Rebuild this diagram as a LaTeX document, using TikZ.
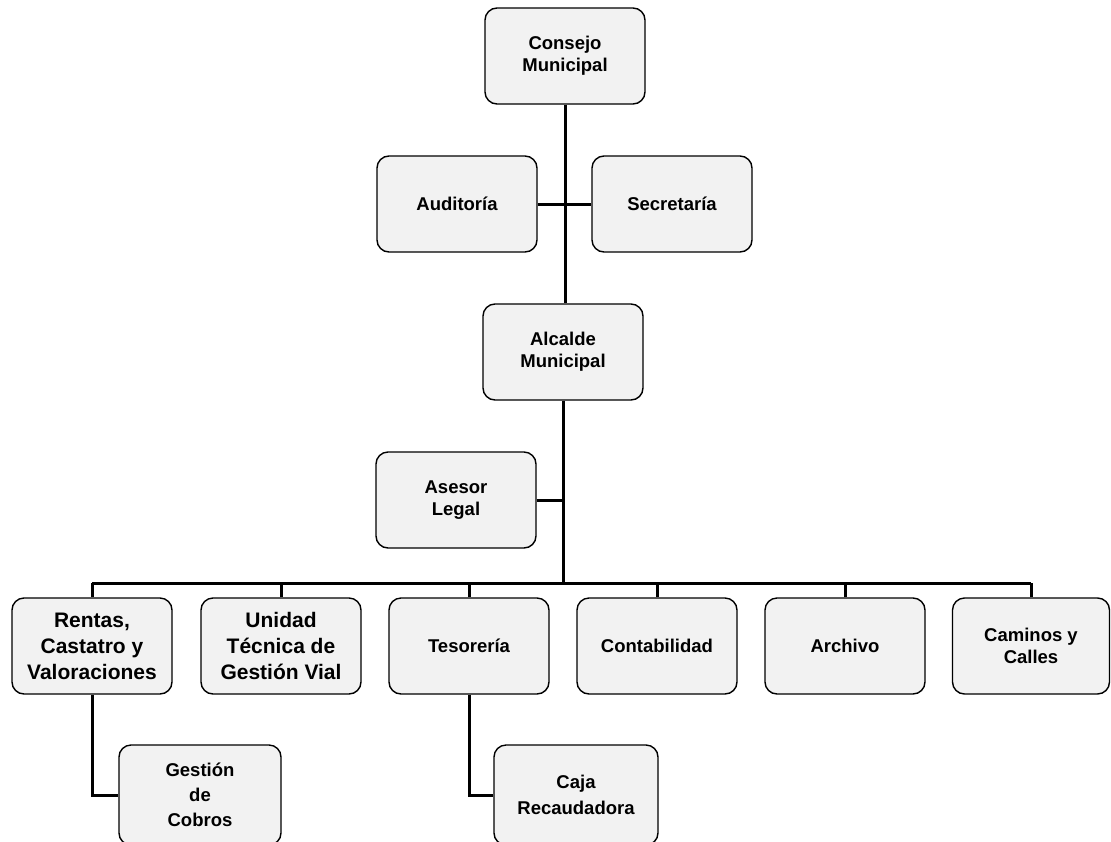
\documentclass[tikz,border=0pt]{standalone}
\usepackage{fontspec}
\setmainfont{Liberation Sans}
\begin{document}
\begin{tikzpicture}[x=1pt,y=-1pt,
  box/.style={draw=black, line width=1.4pt, rounded corners=12pt, fill=black!5,
    minimum width=160pt, minimum height=96pt, inner sep=0pt, align=center,
    font=\fontsize{18.5}{22}\selectfont\bfseries},
  bigbox/.style={box, font=\fontsize{21}{26}\selectfont\bfseries},
  link/.style={draw=black, line width=3pt}]
\useasboundingbox (0,0) rectangle (1111,841);
\clip (0,0) rectangle (1111,841);

\node[box] (consejo) at (565,56) {Consejo\\Municipal};
\node[box] (auditoria) at (457,204) {Auditoría};
\node[box] (secretaria) at (672,204) {Secretaría};
\node[box] (alcalde) at (563,352) {Alcalde\\Municipal};
\node[box] (asesor) at (456,500) {Asesor\\Legal};

\node[bigbox] (rentas) at (92,646) {Rentas,\\Castatro y\\Valoraciones};
\node[bigbox] (unidad) at (281,646) {Unidad\\Técnica de\\Gestión Vial};
\node[box] (tesoreria) at (469,646) {Tesorería};
\node[box] (contabilidad) at (657,646) {Contabilidad};
\node[box] (archivo) at (845,646) {Archivo};
\node[box, minimum width=157pt] (caminos) at (1031,646) {Caminos y\\Calles};

\node[box, minimum width=162pt, minimum height=100pt, font=\fontsize{18.5}{25}\selectfont\bfseries] (gestion) at (200,795) {Gestión\\de\\Cobros};
\node[box, minimum width=164pt, minimum height=100pt, font=\fontsize{18.5}{26}\selectfont\bfseries] (caja) at (576,795) {Caja\\Recaudadora};

\coordinate (bus) at (563,583);

\draw[link] (consejo.south) -- (consejo.south |- alcalde.north);
\draw[link] (auditoria.east) -- (secretaria.west);
\draw[link] (alcalde.south) -- (alcalde.south |- bus);
\draw[link] (asesor.east) -- (asesor.east -| alcalde.south);
\draw[link] (rentas.north |- bus) -- (caminos.north |- bus);
\foreach \n in {rentas,unidad,tesoreria,contabilidad,archivo,caminos}
  \draw[link] (\n.north) -- (\n.north |- bus);
\draw[link] (rentas.south) |- (gestion.west);
\draw[link] (tesoreria.south) |- (caja.west);
\end{tikzpicture}
\end{document}
